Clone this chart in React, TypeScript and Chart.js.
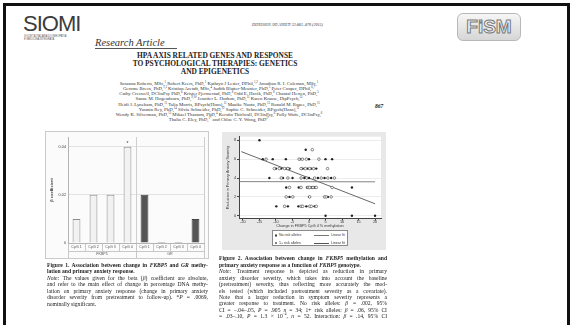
import React, { useEffect, useRef } from 'react';
import { Chart, registerables } from 'chart.js';
Chart.register(...registerables);

// ---------- Figure 1 data (bar chart) ----------
const CPG_LABELS = ['CpG 1', 'CpG 2', 'CpG 3', 'CpG 4', 'CpG 1', 'CpG 2', 'CpG 3', 'CpG 4'];
const GENE_LABELS = ['FKBP5', 'GR'];
const BAR_GENE = ['FKBP5', 'FKBP5', 'FKBP5', 'FKBP5', 'GR', 'GR', 'GR', 'GR'];
const BETA_VALUES = [0.01, 0.02, 0.02, 0.04, 0.02, 0.0004, 0.0004, 0.01];
const SIGNIFICANT = [false, false, false, true, false, false, false, false];
const BAR_TICKS = [0, 0.02, 0.04];

// ---------- Figure 2 data (scatter) ----------
const NO_RISK_X = [1, -13, -3, -2, -0.8, 3, -10.5, -9, -7.4, -6.4, -2.4, -1.1, 0.2, 1.4, 5.6, -8.4, -6.4, -2.4, -0.7, 1.7, 3.7, 5.7, 7.7, -5.9, -2.4, -0.3, 0.2, 1.2, 2.2, 7, -6.9, -4.9, 0.2, 4.7, 5.2, 6.7, -7.4, -2.4, -1.9, 0.2, 0.7, 2.2];
const NO_RISK_Y = [7, 6, 6, 6, 6, 6, 5, 5, 5, 5, 5, 5, 5, 5, 5, 4, 4, 4, 4, 4, 4, 4, 4, 3, 3, 3, 3, 3, 3, 3, 2, 2, 2, 2, 2, 2, 1, 1, 1, 1, 1, 1];
const RISK_X = [-15, -1, -14, -11, -7, -2.5, 0, 5, 7, -10, -8.4, -6.9, -5.9, -1.9, -0.4, 0.7, 2.2, -12, -7.9, -5, -1.4, 0, 2.7, 4.7, 6.7, -6.9, -3.1, -0.6, 0.7, 1.7, 13, -5.9, 0, 5.7, -9.9, -6.4, -3.2, -0.8, 1.7, 5, 13, 20];
const RISK_Y = [8, 7, 6, 6, 6, 6, 6, 6, 6, 5, 5, 5, 5, 5, 5, 5, 5, 4, 4, 4, 4, 4, 4, 4, 4, 3, 3, 3, 3, 3, 3, 2, 2, 2, 1, 1, 1, 1, 1, 0, 0, 0];
const FIT_NO_RISK_X = [-21, 20];
const FIT_NO_RISK_Y = [3.62, 3.6];
const FIT_RISK_X = [-20.5, 20];
const FIT_RISK_Y = [6.8, 1.27];
const SC_X_TICKS = [-20, -15, -10, -5, 0, 5, 10, 15, 20];
const SC_Y_TICKS = [0, 2, 4, 6, 8];

const AUTHOR_LINES = [
  'Susanna Roberts, MSc,^1 Robert Keers, PhD,^1 Kathryn J Lester, DPhil,^1,2 Jonathan R. I. Coleman, MSc,^1',
  'Gerome Breen, PhD,^1,3 Kristian Arendt, MSc,^4 Judith Blatter-Meunier, PhD,^5 Peter Cooper, DPhil,^6,7',
  'Cathy Creswell, DClinPsy PhD,^6 Krister Fjermestad, PhD,^8 Odd E. Havik, PhD,^8 Chantal Herren, PhD,^5',
  'Sanne M. Hogendoorn, PhD,^9,10 Jennifer L. Hudson, PhD,^11 Karen Krause, DipPsych,^12',
  'Heidi J. Lyneham, PhD,^11 Talia Morris, BPsych(Hons),^11 Maaike Nauta, PhD,^13 Ronald M. Rapee, PhD,^11',
  'Yasmin Rey, PhD,^14 Silvia Schneider, PhD,^12 Sophie C. Schneider, BPsych(Hons),^11',
  'Wendy K. Silverman, PhD,^15 Mikael Thastum, PhD,^4 Kerstin Thirlwall, DClinPsy,^6 Polly Waite, DClinPsy,^6',
  'Thalia C. Eley, PhD,^1* and Chloe C. Y. Wong, PhD^1*',
];

const TITLE_LINES = ['HPA AXIS RELATED GENES AND RESPONSE', 'TO PSYCHOLOGICAL THERAPIES: GENETICS', 'AND EPIGENETICS'];

const SERIF = '"Liberation Serif", "DejaVu Serif", serif';
const SANS = '"Liberation Sans", Arial, sans-serif';

function renderSup(line: string) {
  const parts = line.split(/\^(\S+)/);
  return parts.map((p, i) =>
    i % 2 === 1 ? (
      <sup key={i} style={{ fontSize: '3px', lineHeight: 0, verticalAlign: '1.6px' }}>{p}</sup>
    ) : (
      <span key={i}>{p}</span>
    )
  );
}

function Line(props: { top: number; left: number; width: number; h: number; size: number; just?: boolean; children: any; bold?: boolean }) {
  const { top, left, width, h, size, just, children, bold } = props;
  return (
    <div
      style={{
        position: 'absolute',
        left,
        top: top - h / 2,
        width,
        height: h,
        lineHeight: h + 'px',
        fontSize: size + 'px',
        fontFamily: SERIF,
        fontWeight: bold ? 'bold' : 'normal',
        color: '#222',
        whiteSpace: 'nowrap',
        textAlign: just ? 'justify' : 'left',
        textAlignLast: just ? 'justify' : 'left',
      } as any}
    >
      {children}
    </div>
  );
}

export default function App() {
  const barRef = useRef<HTMLCanvasElement>(null);
  const scRef = useRef<HTMLCanvasElement>(null);

  useEffect(() => {
    const barExtras = {
      id: 'barExtras',
      afterDatasetsDraw(chart: any) {
        const { ctx, chartArea, scales } = chart;
        const xs = scales.x;
        ctx.save();
        const xd = (xs.getPixelForValue(3) + xs.getPixelForValue(4)) / 2;
        ctx.strokeStyle = '#cfcfcf';
        ctx.lineWidth = 1;
        ctx.beginPath();
        ctx.moveTo(Math.round(xd) + 0.5, chartArea.top);
        ctx.lineTo(Math.round(xd) + 0.5, chartArea.bottom);
        ctx.moveTo(Math.round(chartArea.right) + 0.5, chartArea.top);
        ctx.lineTo(Math.round(chartArea.right) + 0.5, chartArea.bottom);
        ctx.stroke();
        const meta = chart.getDatasetMeta(0);
        ctx.fillStyle = '#333';
        ctx.font = '5px ' + SANS;
        ctx.textAlign = 'center';
        ctx.textBaseline = 'bottom';
        SIGNIFICANT.forEach((s, i) => {
          if (s) {
            const el = meta.data[i];
            ctx.fillText('*', el.x, el.y - 1);
          }
        });
        ctx.restore();
      },
    };

    const bar = new Chart(barRef.current as HTMLCanvasElement, {
      type: 'bar',
      data: {
        labels: CPG_LABELS,
        datasets: [
          {
            data: BETA_VALUES,
            backgroundColor: BAR_GENE.map((g) => (g === 'GR' ? '#555555' : '#f2f2f2')),
            borderColor: BAR_GENE.map((g) => (g === 'GR' ? '#444444' : '#8c8c8c')),
            borderWidth: 1,
            barPercentage: 0.46,
            categoryPercentage: 1,
          },
        ],
      },
      options: {
        responsive: false,
        animation: false,
        layout: { padding: { left: 0, right: 4, top: 5, bottom: 0 } },
        plugins: { legend: { display: false }, tooltip: { enabled: false } },
        scales: {
          x: {
            type: 'category',
            position: 'bottom',
            weight: 0,
            grid: { offset: true, drawOnChartArea: false, tickLength: 8, color: '#c8c8c8' },
            border: { color: '#b4b4b4' },
            ticks: { autoSkip: false, maxRotation: 0, minRotation: 0, font: { size: 3.6, family: SANS }, color: '#555', padding: -6.3 },
            afterFit: (s: any) => { s.height = 8; },
          },
          x2: {
            type: 'category',
            labels: GENE_LABELS,
            position: 'bottom',
            weight: 1,
            grid: { offset: true, drawOnChartArea: false, tickLength: 7, color: '#c8c8c8' },
            border: { color: '#c8c8c8' },
            ticks: { autoSkip: false, maxRotation: 0, minRotation: 0, font: { size: 3.6, family: SANS }, color: '#555', padding: -5.8 },
            afterFit: (s: any) => { s.height = 7; },
          },
          y: {
            min: 0,
            max: 0.044,
            afterBuildTicks: (s: any) => { s.ticks = BAR_TICKS.map((v) => ({ value: v })); },
            ticks: { font: { size: 3.8, family: SANS }, color: '#444', padding: 2, callback: (v: any) => (v === 0 ? '0' : String(v)) },
            grid: { color: '#e2e2e2', drawTicks: false },
            border: { color: '#b4b4b4' },
            title: { display: true, text: 'β coefficient', font: { size: 4, family: SANS, weight: 'bold' }, color: '#444', padding: { top: 3.6, bottom: 0 } },
            afterFit: (s: any) => { s.width = 22; },
          },
        },
      } as any,
      plugins: [barExtras],
    });

    const plotBg = {
      id: 'plotBg',
      beforeDraw(chart: any) {
        const { ctx, chartArea } = chart;
        ctx.save();
        ctx.fillStyle = '#ffffff';
        ctx.fillRect(chartArea.left, chartArea.top, chartArea.right - chartArea.left, chartArea.bottom - chartArea.top);
        ctx.restore();
      },
    };

    const sc = new Chart(scRef.current as HTMLCanvasElement, {
      type: 'scatter',
      data: {
        datasets: [
          {
            label: 'No risk alleles',
            data: NO_RISK_X.map((x, i) => ({ x, y: NO_RISK_Y[i] })),
            pointRadius: 1.3,
            pointBackgroundColor: '#ffffff',
            pointBorderColor: '#555555',
            pointBorderWidth: 0.7,
          },
          {
            label: '1+ risk alleles',
            data: RISK_X.map((x, i) => ({ x, y: RISK_Y[i] })),
            pointRadius: 1.2,
            pointBackgroundColor: '#222222',
            pointBorderColor: '#222222',
            pointBorderWidth: 0,
          },
          {
            type: 'line',
            label: 'Linear fit',
            data: FIT_NO_RISK_X.map((x, i) => ({ x, y: FIT_NO_RISK_Y[i] })),
            borderColor: '#777777',
            borderWidth: 0.9,
            pointRadius: 0,
            fill: false,
          },
          {
            type: 'line',
            label: 'Linear fit',
            data: FIT_RISK_X.map((x, i) => ({ x, y: FIT_RISK_Y[i] })),
            borderColor: '#555555',
            borderWidth: 0.9,
            pointRadius: 0,
            fill: false,
          },
        ],
      } as any,
      options: {
        responsive: false,
        animation: false,
        layout: { padding: { left: 0, right: 5, top: 2, bottom: 22.2 } },
        plugins: { legend: { display: false }, tooltip: { enabled: false } },
        scales: {
          x: {
            type: 'linear',
            min: -21.2,
            max: 21.8,
            afterBuildTicks: (s: any) => { s.ticks = SC_X_TICKS.map((v) => ({ value: v })); },
            grid: { drawOnChartArea: false, tickLength: 2, color: '#444' },
            border: { color: '#444' },
            ticks: { font: { size: 3.8, family: SANS }, color: '#333', padding: -1.1, maxRotation: 0 },
            title: { display: true, text: 'Change in FKBP5 CpG 4 % methylation', font: { size: 3.8, family: SANS }, color: '#333', padding: { top: 0, bottom: 0 } },
            afterFit: (s: any) => { s.height = 9.3; },
          },
          y: {
            type: 'linear',
            min: -0.29,
            max: 8.38,
            afterBuildTicks: (s: any) => { s.ticks = SC_Y_TICKS.map((v) => ({ value: v })); },
            grid: { color: '#ececec', tickColor: '#444', tickLength: 2 },
            border: { color: '#444' },
            ticks: { font: { size: 3.8, family: SANS }, color: '#333', padding: 1 },
            title: { display: true, text: 'Reduction in Primary Anxiety Severity', font: { size: 3.8, family: SANS }, color: '#333', padding: { top: 3.7, bottom: 0 } },
            afterFit: (s: any) => { s.width = 17; },
          },
        },
      } as any,
      plugins: [plotBg],
    });

    return () => {
      bar.destroy();
      sc.destroy();
    };
  }, []);

  const f1 = 6.5;
  const f2 = 6.45;
  const capSize = 5.6;

  return (
    <div style={{ position: 'absolute', left: 0, top: 0, width: 573, height: 325, overflow: 'hidden', background: '#fff', fontFamily: SERIF }}>
      {/* frame */}
      <div style={{ position: 'absolute', left: 3, top: 3, width: 561, height: 340, borderLeft: '3px solid #111', borderTop: '3px solid #111', borderRight: '3px solid #111' }} />

      {/* SIOMI logo */}
      <div style={{ position: 'absolute', left: 23, top: 12, fontFamily: SANS, fontSize: 22, letterSpacing: -1, color: '#3c3c3c', lineHeight: '24px' }}>SIOMI</div>
      <div style={{ position: 'absolute', left: 24, top: 35, fontFamily: SANS, fontSize: 2.6, color: '#555', lineHeight: '3px', whiteSpace: 'nowrap' }}>
        SOCIETÀ ITALIANA DI OMEOPATIA
        <br />E MEDICINA INTEGRATA
      </div>

      {/* Journal header */}
      <div style={{ position: 'absolute', left: 252, top: 21.5, fontSize: 4, fontStyle: 'italic', fontVariant: 'small-caps', color: '#333', whiteSpace: 'nowrap', lineHeight: '5px' }}>
        Depression and Anxiety 32:861–870 (2015)
      </div>

      {/* FISM logo */}
      <div style={{ position: 'absolute', left: 457, top: 13, width: 64, height: 28, borderRadius: 6, border: '1px solid #b8b8b8', background: 'linear-gradient(#f6f6f6, #d6d6d6)', boxSizing: 'border-box', textAlign: 'center', fontFamily: SANS, fontWeight: 'bold', fontSize: 19, lineHeight: '26px', color: '#f2f2f2', WebkitTextStroke: '1px #7a7a7a', letterSpacing: 0 } as any}>
        FiSM
      </div>

      {/* Research Article */}
      <div style={{ position: 'absolute', left: 95, top: 36.5, fontSize: 10.5, fontStyle: 'italic', color: '#333', lineHeight: '11px', whiteSpace: 'nowrap' }}>Research Article</div>
      <div style={{ position: 'absolute', left: 95, top: 48, width: 82, height: 0, borderTop: '0.8px solid #555' }} />

      {/* Title */}
      {TITLE_LINES.map((t, i) => (
        <div key={i} style={{ position: 'absolute', left: 115, width: 200, top: 56 + i * 8 - 4, height: 8, lineHeight: '8px', textAlign: 'center', fontSize: 7.4, fontWeight: 'bold', color: '#222', whiteSpace: 'nowrap' }}>
          {t}
        </div>
      ))}

      {/* Authors */}
      {AUTHOR_LINES.map((l, i) => (
        <div key={i} style={{ position: 'absolute', left: 89, width: 260, top: 83.5 + i * 5.14 - 2.5, height: 5, lineHeight: '5px', textAlign: 'center', fontSize: 4.8, color: '#333', whiteSpace: 'nowrap' }}>
          {renderSup(l)}
        </div>
      ))}
      <div style={{ position: 'absolute', left: 375, top: 103, fontSize: 5.5, fontWeight: 'bold', fontStyle: 'italic', color: '#222', lineHeight: '6px' }}>867</div>

      {/* Figure 1 box */}
      <div style={{ position: 'absolute', left: 45, top: 131, width: 164, height: 128, border: '1px solid #cacaca', boxSizing: 'border-box', background: '#fbfbfb' }} />
      <canvas ref={barRef} width={162} height={126} style={{ position: 'absolute', left: 46, top: 132, width: 162, height: 126 }} />

      {/* Figure 2 panel */}
      <canvas ref={scRef} width={164} height={118} style={{ position: 'absolute', left: 222, top: 132, width: 164, height: 118, background: '#e8e8e8' }} />
      {/* Figure 2 legend */}
      <div style={{ position: 'absolute', left: 272, top: 229.5, width: 76, height: 16.5, boxSizing: 'border-box', border: '0.8px solid #8a8a8a', background: '#ffffff', fontFamily: SANS, fontSize: 3.6, color: '#333' }}>
        {[
          { label: 'No risk alleles', fill: '#ffffff' },
          { label: '1+ risk alleles', fill: '#222222' },
        ].map((r, i) => (
          <div key={i} style={{ position: 'absolute', left: 0, top: 2.5 + i * 7.5, width: 76, height: 5, lineHeight: '5px', whiteSpace: 'nowrap' }}>
            <span style={{ position: 'absolute', left: 2, top: 1.3, width: 2.4, height: 2.4, borderRadius: '50%', background: r.fill, border: '0.6px solid #444', boxSizing: 'border-box' }} />
            <span style={{ position: 'absolute', left: 6 }}>{r.label}</span>
            <span style={{ position: 'absolute', left: 41, top: 2.2, width: 15, height: 0, borderTop: '0.9px solid ' + (i === 0 ? '#777' : '#555') }} />
            <span style={{ position: 'absolute', left: 58 }}>Linear fit</span>
          </div>
        ))}
      </div>

      {/* Figure 1 caption */}
      <Line top={265} left={47} width={161} h={f1} size={capSize} just bold>
        Figure 1. Association between change in <i>FKBP5</i> and <i>GR</i> methy-
      </Line>
      <Line top={265 + f1} left={47} width={161} h={f1} size={capSize} bold>
        lation and primary anxiety response.
      </Line>
      <Line top={265 + 2 * f1} left={47} width={161} h={f1} size={capSize} just>
        <i>Note:</i> The values given for the beta (<i>β</i>) coefficient are absolute,
      </Line>
      <Line top={265 + 3 * f1} left={47} width={161} h={f1} size={capSize} just>
        and refer to the main effect of change in percentage DNA methy-
      </Line>
      <Line top={265 + 4 * f1} left={47} width={161} h={f1} size={capSize} just>
        lation on primary anxiety response (change in primary anxiety
      </Line>
      <Line top={265 + 5 * f1} left={47} width={161} h={f1} size={capSize} just>
        disorder severity from pretreatment to follow-up). *<i>P</i> = .0069,
      </Line>
      <Line top={265 + 6 * f1} left={47} width={161} h={f1} size={capSize}>
        nominally significant.
      </Line>

      {/* Figure 2 caption */}
      <Line top={258.5} left={219} width={168} h={f2} size={capSize} just bold>
        Figure 2. Association between change in <i>FKBP5</i> methylation and
      </Line>
      <Line top={258.5 + f2} left={219} width={168} h={f2} size={capSize} bold>
        primary anxiety response as a function of <i>FKBP5</i> genotype.
      </Line>
      <Line top={258.5 + 2 * f2} left={219} width={168} h={f2} size={capSize} just>
        <i>Note:</i> Treatment response is depicted as reduction in primary
      </Line>
      <Line top={258.5 + 3 * f2} left={219} width={168} h={f2} size={capSize} just>
        anxiety disorder severity, which takes into account the baseline
      </Line>
      <Line top={258.5 + 4 * f2} left={219} width={168} h={f2} size={capSize} just>
        (pretreatment) severity, thus reflecting more accurately the mod-
      </Line>
      <Line top={258.5 + 5 * f2} left={219} width={168} h={f2} size={capSize} just>
        els tested (which included pretreatment severity as a covariate).
      </Line>
      <Line top={258.5 + 6 * f2} left={219} width={168} h={f2} size={capSize} just>
        Note that a larger reduction in symptom severity represents a
      </Line>
      <Line top={258.5 + 7 * f2} left={219} width={168} h={f2} size={capSize} just>
        greater response to treatment. No risk alleles: <i>β</i> = .002, 95%
      </Line>
      <Line top={258.5 + 8 * f2} left={219} width={168} h={f2} size={capSize} just>
        CI = −.04–.05, <i>P</i> = .905 <i>n</i> = 34; 1+ risk alleles: <i>β</i> = .06, 95% CI
      </Line>
      <Line top={258.5 + 9 * f2} left={219} width={168} h={f2} size={capSize} just>
        = .03–.10, <i>P</i> = 1.3 × 10<sup style={{ fontSize: '3.5px', lineHeight: 0 }}>−4</sup>, <i>n</i> = 52. Interaction: <i>β</i> = .14, 95% CI
      </Line>
    </div>
  );
}
